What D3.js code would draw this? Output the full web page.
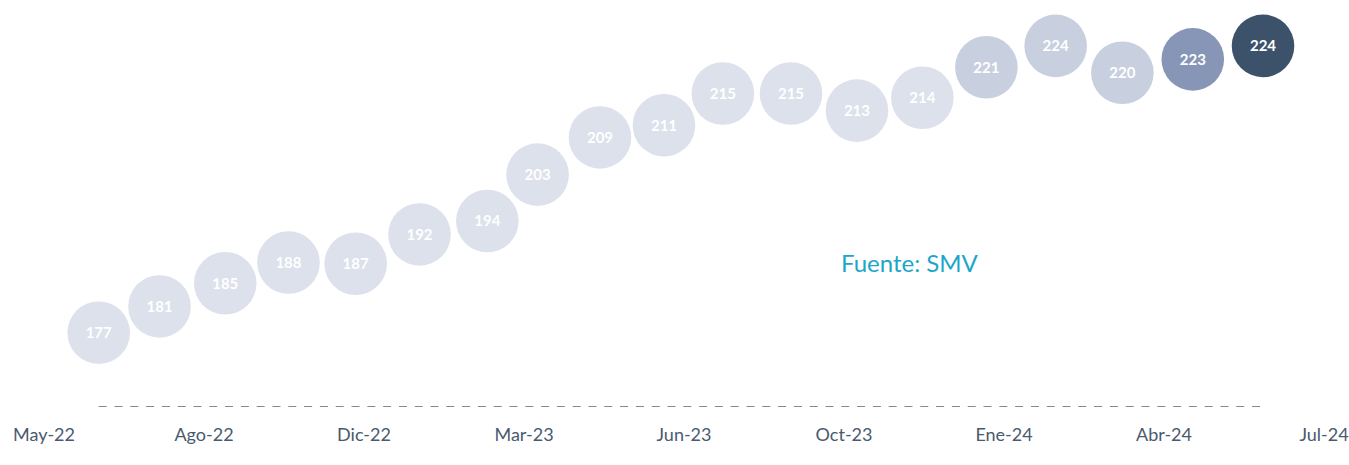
<!DOCTYPE html>
<html>
<head>
<meta charset="utf-8">
<script src="https://cdn.jsdelivr.net/npm/d3@7"></script>
<style>
  html, body { margin: 0; padding: 0; background: #fff; }
  svg { display: block; }
</style>
</head>
<body>
<div id="chart-area"></div>
<script>
// tick labels on the bottom axis (evenly spaced)
let tickLabels = ["May-22", "Ago-22", "Dic-22", "Mar-23", "Jun-23", "Oct-23", "Ene-24", "Abr-24", "Jul-24"];

// bubble position along the axis, in tick units (0 = May-22 ... 8 = Jul-24)
let xPos = [0.345, 0.725, 1.136, 1.531, 1.951, 2.350, 2.774, 3.088, 3.478, 3.878,
            4.246, 4.672, 5.084, 5.493, 5.893, 6.326, 6.743, 7.183, 7.622];

// plotted height of each bubble
let yVals = [177.0, 181.3, 185.1, 188.5, 188.3, 193.1, 195.3, 202.9, 209.0, 211.0,
             216.2, 216.2, 213.4, 215.5, 220.5, 224.0, 219.6, 221.8, 224.0];

// label shown inside each bubble
let labels = [177, 181, 185, 188, 187, 192, 194, 203, 209, 211,
              215, 215, 213, 214, 221, 224, 220, 223, 224];

// shade group of each bubble (0 = older, 1 = recent, 2 = previous, 3 = current)
let groups = [0, 0, 0, 0, 0, 0, 0, 0, 0, 0, 0, 0, 0, 0, 1, 1, 1, 2, 3];

let source = "Fuente: SMV";

let width = 1349, height = 465;

let svg = d3.select("#chart-area").append("svg")
    .attr("width", width)
    .attr("height", height);

// scales
let x = d3.scaleLinear()
    .domain([0, tickLabels.length - 1])
    .range([43.5, 1323.5]);

let y = d3.scaleLinear()
    .domain([170, 230])
    .range([375.4, 9.3]);

let shade = d3.scaleOrdinal()
    .domain([0, 1, 2, 3])
    .range(["#dce1eb", "#c8d0df", "#8796b7", "#3c526b"]);

let data = xPos.map((d, i) => ({ x: d, y: yVals[i], label: labels[i], group: groups[i] }));

// dashed baseline spanning the data range
svg.append("line")
    .attr("x1", x(d3.min(xPos)))
    .attr("x2", x(d3.max(xPos)) - 3)
    .attr("y1", 406.5)
    .attr("y2", 406.5)
    .style("stroke", "#7d8a99")
    .style("stroke-width", 1.2)
    .style("stroke-dasharray", "8,7.8");

// bottom axis (labels only)
let xAxis = d3.axisBottom(x)
    .tickValues(d3.range(tickLabels.length))
    .tickFormat(i => tickLabels[i])
    .tickSize(0)
    .tickPadding(0);

let axisG = svg.append("g")
    .attr("transform", "translate(0,428)")
    .call(xAxis);

axisG.select(".domain").remove();
axisG.selectAll("text")
    .attr("dy", "0.71em")
    .style("font-family", "Lato, 'Open Sans', sans-serif")
    .style("font-size", "18px")
    .style("fill", "#4a5a6e");

// bubbles
let bubbles = svg.selectAll(".bubble")
    .data(data)
    .enter().append("g")
    .attr("class", "bubble")
    .attr("transform", d => "translate(" + x(d.x) + "," + y(d.y) + ")");

bubbles.append("circle")
    .attr("r", 31.3)
    .style("fill", d => shade(d.group));

bubbles.append("text")
    .attr("text-anchor", "middle")
    .attr("dy", "0.36em")
    .text(d => d.label)
    .style("font-family", "Lato, 'Open Sans', sans-serif")
    .style("font-weight", "bold")
    .style("font-size", "15px")
    .style("fill", "#ffffff");

// source note
svg.append("text")
    .attr("x", 841)
    .attr("y", 272)
    .text(source)
    .style("font-family", "Lato, 'Open Sans', sans-serif")
    .style("font-size", "24px")
    .style("fill", "#1ba7ca");
</script>
</body>
</html>
